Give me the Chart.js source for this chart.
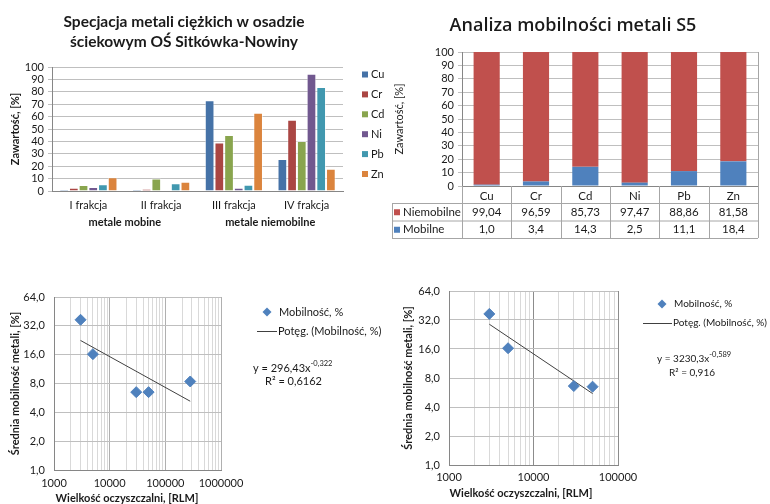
<!DOCTYPE html>
<html>
<head>
<meta charset="utf-8">
<script src="https://cdn.jsdelivr.net/npm/chart.js@4.4.0/dist/chart.umd.min.js"></script>
<style>
  body { margin: 0; background: #fff; width: 770px; height: 504px; position: relative; overflow: hidden; }
  canvas { position: absolute; }
</style>
</head>
<body>
<canvas id="speciation" width="390" height="240" style="left:0;top:0"></canvas>
<canvas id="mobility" width="380" height="240" style="left:390px;top:0"></canvas>
<canvas id="sizeAll" width="390" height="244" style="left:0;top:260px"></canvas>
<canvas id="sizeSmall" width="380" height="244" style="left:390px;top:260px"></canvas>
<script>
const FONT = 'Lato, "Noto Sans", sans-serif';
Chart.defaults.font.family = FONT;
Chart.defaults.font.size = 11;
Chart.defaults.color = '#1a1a1a';
Chart.defaults.animation = false;

// specjacja metali (wykres 1)
const speciationTitle = ['Specjacja metali ciężkich w osadzie', 'ściekowym OŚ Sitkówka-Nowiny'];
const fractions = ['I frakcja', 'II frakcja', 'III frakcja', 'IV frakcja'];
const fractionGroups = ['metale mobine', 'metale niemobilne'];
const metals = ['Cu', 'Cr', 'Cd', 'Ni', 'Pb', 'Zn'];
const cuFraction = [1.3, 1.1, 73.1, 25.8];
const crFraction = [2.7, 1.6, 39.2, 57.5];
const cdFraction = [4.8, 10.0, 45.2, 40.3];
const niFraction = [3.2, 0, 2.7, 94.6];
const pbFraction = [5.4, 6.2, 5.1, 83.9];
const znFraction = [11.0, 7.5, 63.2, 18.0];
const metalColors = ['#4572A7', '#AA4643', '#89A54E', '#71588F', '#4198AF', '#DB843D'];

// mobilnosc S5 (wykres 2)
const mobilityTitle = 'Analiza mobilności metali S5';
const nonMobileShare = [99.04, 96.59, 85.73, 97.47, 88.86, 81.58];
const mobileShare = [1.0, 3.4, 14.3, 2.5, 11.1, 18.4];

// wielkosc oczyszczalni (wykresy 3 i 4)
const plantSizeAll = [3000, 5000, 30000, 50000, 280000];
const mobilityAll = [37, 16.2, 6.5, 6.5, 8.4];
const fitAllCoef = [296.43, -0.322];
const fitAllR2 = 0.6162;
const plantSizeSmall = [3000, 5000, 30000, 50000];
const mobilitySmall = [37, 16.3, 6.6, 6.5];
const fitSmallCoef = [3230.3, -0.589];
const fitSmallR2 = 0.916;
const mobilityTicks = [1, 2, 4, 8, 16, 32, 64];

const fmt = v => String(v).replace('.', ',');
const AXIS = '#868686';
const GRID = '#bfbfbf';

function put(ctx, str, x, y, font, align, rot) {
  ctx.save();
  ctx.font = font;
  ctx.fillStyle = '#1a1a1a';
  ctx.textAlign = align || 'left';
  ctx.textBaseline = 'middle';
  ctx.translate(x, y);
  if (rot) ctx.rotate(rot);
  ctx.fillText(str, 0, 0);
  ctx.restore();
}

// ---------- wykres 1
const speciationDecor = {
  id: 'speciationDecor',
  afterDraw(chart) {
    const { ctx, chartArea: a, scales: { x } } = chart;
    put(ctx, speciationTitle[0], 184, 22, 'bold 15.5px ' + FONT, 'center');
    put(ctx, speciationTitle[1], 184, 42, 'bold 15.5px ' + FONT, 'center');
    fractionGroups.forEach((g, i) => {
      const cx = (x.getPixelForValue(2 * i) + x.getPixelForValue(2 * i + 1)) / 2;
      put(ctx, g, cx, 222, 'bold 11px ' + FONT, 'center');
    });
    put(ctx, 'Zawartość, [%]', 15, (a.top + a.bottom) / 2, 'bold 11px ' + FONT, 'center', -Math.PI / 2);
    chart.data.datasets.forEach((ds, i) => {
      const y = 74.5 + i * 19.9;
      ctx.fillStyle = ds.backgroundColor;
      ctx.fillRect(362, y - 3, 6, 6);
      put(ctx, ds.label, 371, y, '11px ' + FONT);
    });
  }
};

const fractionSeries = [cuFraction, crFraction, cdFraction, niFraction, pbFraction, znFraction];
new Chart(document.getElementById('speciation'), {
  type: 'bar',
  data: {
    labels: fractions,
    datasets: metals.map((m, i) => ({
      label: m,
      data: fractionSeries[i],
      backgroundColor: metalColors[i],
      borderColor: 'rgba(255,255,255,0.55)',
      borderWidth: 1,
      categoryPercentage: 0.8,
      barPercentage: 1
    }))
  },
  options: {
    responsive: false,
    layout: { padding: { top: 67, right: 47, left: 0, bottom: 0 } },
    plugins: { legend: { display: false }, tooltip: { enabled: false } },
    scales: {
      x: {
        grid: { display: false, drawTicks: false },
        border: { color: AXIS },
        ticks: { padding: 8 },
        afterFit: s => { s.height = 49; }
      },
      y: {
        min: 0, max: 100,
        ticks: { stepSize: 10, padding: 4, autoSkip: false },
        grid: { color: GRID, tickLength: 4 },
        border: { color: AXIS },
        afterFit: s => { s.width = 52; }
      }
    }
  },
  plugins: [speciationDecor]
});

// ---------- wykres 2
const mobilityTable = {
  id: 'mobilityTable',
  afterDraw(chart) {
    const { ctx, chartArea: a, scales: { x } } = chart;
    put(ctx, mobilityTitle, 183, 26, '600 18px "Open Sans", ' + FONT, 'center');
    put(ctx, 'Zawartość, [%]', 9, (a.top + a.bottom) / 2, '11px ' + FONT, 'center', -Math.PI / 2);

    const rows = [203, 220.5, 238];
    const colW = (x.right - x.left) / metals.length;
    ctx.save();
    ctx.strokeStyle = '#a6a6a6';
    ctx.lineWidth = 1;
    ctx.beginPath();
    rows.forEach(y => { ctx.moveTo(2, y + 0.5); ctx.lineTo(x.right, y + 0.5); });
    ctx.moveTo(2.5, rows[0]); ctx.lineTo(2.5, rows[2]);
    for (let i = 0; i <= metals.length; i++) {
      const px = Math.round(x.left + i * colW) + 0.5;
      ctx.moveTo(px, i === metals.length ? a.top : a.bottom);
      ctx.lineTo(px, rows[2]);
    }
    ctx.stroke();
    ctx.restore();

    const tableRows = [chart.data.datasets[1], chart.data.datasets[0]];
    const fixed = [2, 1];
    tableRows.forEach((ds, r) => {
      const y = (rows[r] + rows[r + 1]) / 2 + 0.5;
      ctx.fillStyle = ds.backgroundColor;
      ctx.fillRect(4, y - 3, 6, 6);
      put(ctx, ds.label, 13, y, '11.5px ' + FONT);
      ds.data.forEach((v, i) => {
        put(ctx, v.toFixed(fixed[r]).replace('.', ','), x.getPixelForValue(i), y, '11.5px ' + FONT, 'center');
      });
    });
  }
};

new Chart(document.getElementById('mobility'), {
  type: 'bar',
  data: {
    labels: metals,
    datasets: [
      { label: 'Mobilne', data: mobileShare, backgroundColor: '#4F81BD' },
      { label: 'Niemobilne', data: nonMobileShare, backgroundColor: '#C0504D' }
    ]
  },
  options: {
    responsive: false,
    datasets: { bar: { barPercentage: 0.53, categoryPercentage: 1 } },
    layout: { padding: { top: 52, right: 12, left: 0, bottom: 0 } },
    plugins: { legend: { display: false }, tooltip: { enabled: false } },
    scales: {
      x: {
        stacked: true,
        grid: { display: false, drawTicks: false },
        border: { color: AXIS },
        ticks: { padding: 3, font: { size: 11.5 } },
        afterFit: s => { s.height = 54; }
      },
      y: {
        stacked: true,
        min: 0, max: 100,
        ticks: { stepSize: 10, padding: 4, autoSkip: false },
        grid: { color: GRID, tickLength: 4 },
        border: { color: AXIS },
        afterFit: s => { s.width = 72; }
      }
    }
  },
  plugins: [mobilityTable]
});

// ---------- wykresy 3 i 4
function isDecade(v) {
  const l = Math.log10(v);
  return Math.abs(l - Math.round(l)) < 1e-9;
}

function sizeChart(id, sizes, values, coef, r2, xMax, box) {
  const trend = [sizes[0], sizes[sizes.length - 1]].map(x => ({ x, y: coef[0] * Math.pow(x, coef[1]) }));
  const decor = {
    id: 'decor_' + id,
    afterDraw(chart) {
      const { ctx, chartArea: a } = chart;
      const lf = box.legendFont + 'px ' + FONT;
      put(ctx, 'Wielkość oczyszczalni, [RLM]', box.xTitle[0], box.xTitle[1], 'bold 11px ' + FONT, 'center');
      put(ctx, 'Średnia mobilność metali, [%]', box.yTitleX, (a.top + a.bottom) / 2, 'bold 11px ' + FONT, 'center', -Math.PI / 2);
      const [lx, ly] = box.legend;
      ctx.save();
      ctx.fillStyle = '#4F81BD';
      ctx.beginPath();
      ctx.moveTo(lx, ly - 4.5); ctx.lineTo(lx + 4.5, ly); ctx.lineTo(lx, ly + 4.5); ctx.lineTo(lx - 4.5, ly);
      ctx.closePath();
      ctx.fill();
      ctx.strokeStyle = '#404040';
      ctx.lineWidth = 1;
      ctx.beginPath();
      ctx.moveTo(box.lineFrom, ly + 19.5); ctx.lineTo(lx + 10, ly + 19.5);
      ctx.stroke();
      ctx.restore();
      put(ctx, chart.data.datasets[0].label, lx + 12, ly, lf);
      put(ctx, chart.data.datasets[1].label, lx + 11, ly + 19, lf);
      const [ex, ey] = box.eq;
      const base = 'y = ' + fmt(coef[0]) + 'x';
      ctx.font = lf;
      const w = ctx.measureText(base).width;
      put(ctx, base, ex, ey, lf);
      put(ctx, fmt(coef[1]), ex + w, ey - 4, '7.5px ' + FONT);
      put(ctx, 'R² = ' + fmt(r2), ex + box.r2Shift, ey + 13.5, lf);
    }
  };
  return new Chart(document.getElementById(id), {
    type: 'scatter',
    data: {
      datasets: [
        {
          label: 'Mobilność, %',
          data: sizes.map((x, i) => ({ x, y: values[i] })),
          pointStyle: 'rectRot',
          pointRadius: 5.5,
          backgroundColor: '#4F81BD',
          borderColor: '#4F81BD'
        },
        {
          type: 'line',
          label: 'Potęg. (Mobilność, %)',
          data: trend,
          borderColor: '#404040',
          borderWidth: 1,
          pointRadius: 0,
          fill: false
        }
      ]
    },
    options: {
      responsive: false,
      layout: { padding: box.padding },
      plugins: { legend: { display: false }, tooltip: { enabled: false } },
      scales: {
        x: {
          type: 'logarithmic',
          min: 1000, max: xMax,
          afterBuildTicks: s => {
            const t = [];
            for (let d = 1000; d <= xMax; d *= 10) {
              for (let k = 1; k <= 9 && k * d <= xMax; k++) t.push({ value: k * d });
            }
            s.ticks = t;
          },
          ticks: {
            autoSkip: false, maxRotation: 0, padding: box.xPad,
            callback: v => isDecade(v) ? String(v) : ''
          },
          grid: {
            drawTicks: false,
            color: c => isDecade(c.tick.value) ? box.decadeGrid : '#d9d9d9'
          },
          border: { color: AXIS },
          afterFit: s => { s.height = box.xHeight; }
        },
        y: {
          type: 'logarithmic',
          min: 1, max: 64,
          afterBuildTicks: s => { s.ticks = mobilityTicks.map(v => ({ value: v })); },
          ticks: { padding: 9, autoSkip: false, callback: v => v.toFixed(1).replace('.', ',') },
          grid: { drawTicks: false, color: GRID },
          border: { color: AXIS },
          afterFit: s => { s.width = box.yWidth; }
        }
      }
    },
    plugins: [decor]
  });
}

sizeChart('sizeAll', plantSizeAll, mobilityAll, fitAllCoef, fitAllR2, 1000000, {
  padding: { top: 37, right: 169, left: 0, bottom: 0 },
  yWidth: 54, xHeight: 34, xPad: 7, decadeGrid: '#b0b0b0',
  xTitle: [127, 238], yTitleX: 15, legendFont: 11,
  legend: [267, 52], lineFrom: 257, eq: [253, 108], r2Shift: 12
});

sizeChart('sizeSmall', plantSizeSmall, mobilitySmall, fitSmallCoef, fitSmallR2, 100000, {
  padding: { top: 31, right: 152, left: 0, bottom: 0 },
  yWidth: 59, xHeight: 39, xPad: 6, decadeGrid: '#8c8c8c',
  xTitle: [131, 233], yTitleX: 18, legendFont: 10,
  legend: [272, 44], lineFrom: 253, eq: [267, 99], r2Shift: 12
});
</script>
</body>
</html>
